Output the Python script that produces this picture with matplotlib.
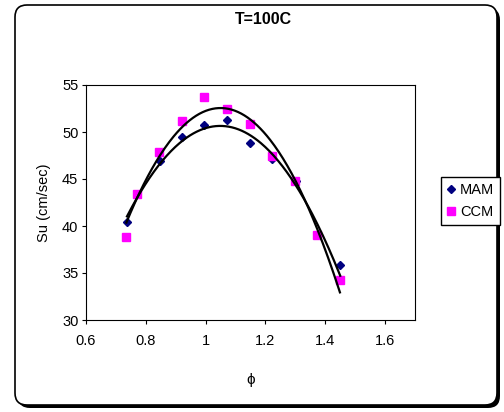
import numpy as np
import matplotlib.pyplot as plt
from matplotlib.patches import FancyBboxPatch
from matplotlib.lines import Line2D

plt.rcParams['font.family'] = ['Liberation Sans', 'DejaVu Sans']

# data
phi_mam = [0.737, 0.846, 0.921, 0.996, 1.073, 1.149, 1.223, 1.301, 1.371, 1.45]
su_mam = [40.4, 46.9, 49.5, 50.7, 51.3, 48.8, 47.1, 44.8, 39.0, 35.8]
phi_ccm = [0.735, 0.769, 0.845, 0.92, 0.996, 1.072, 1.147, 1.221, 1.299, 1.371, 1.449]
su_ccm = [38.8, 43.4, 47.9, 51.2, 53.7, 52.4, 50.8, 47.5, 44.8, 39.0, 34.3]

x_ticks = [0.6, 0.8, 1.0, 1.2, 1.4, 1.6]
x_tick_labels = ['0.6', '0.8', '1', '1.2', '1.4', '1.6']
y_ticks = [30, 35, 40, 45, 50, 55]

W, H = 504, 412
fig = plt.figure(figsize=(W / 100, H / 100), dpi=100)

# chart area with rounded corners and a small shadow, in pixel coords
bg = fig.add_axes([0, 0, 1, 1], zorder=0)
bg.set_xlim(0, W)
bg.set_ylim(H, 0)
bg.axis('off')
shadow = FancyBboxPatch((18, 8), 482, 400, boxstyle='round,pad=0,rounding_size=12',
                        fc='black', ec='black', lw=0)
box = FancyBboxPatch((15, 5), 482, 400, boxstyle='round,pad=0,rounding_size=12',
                     fc='white', ec='black', lw=1.2)
bg.add_patch(shadow)
bg.add_patch(box)

ax = fig.add_axes([86 / W, 1 - 320 / H, 329 / W, 235 / H], zorder=1)
ax.set_facecolor('white')

ax.plot(phi_mam, su_mam, ls='none', marker='D', ms=4.3, color='#000080', zorder=3)
ax.plot(phi_ccm, su_ccm, ls='none', marker='s', ms=5.2, color='#FF00FF', zorder=3)

# 2nd order polynomial trendlines (as in Excel)
for px, py in [(phi_mam, su_mam), (phi_ccm, su_ccm)]:
    c = np.polyfit(px, py, 2)
    xx = np.linspace(min(px), max(px), 200)
    ax.plot(xx, np.polyval(c, xx), color='black', lw=1.6, zorder=4)

ax.set_xlim(0.6, 1.7)
ax.set_ylim(30, 55)
ax.set_xticks(x_ticks)
ax.set_xticklabels(x_tick_labels)
ax.set_yticks(y_ticks)
ax.tick_params(direction='out', length=3, width=0.8, labelsize=10.5)
ax.tick_params(axis='x', pad=7)
ax.tick_params(axis='y', pad=2.5)
for s in ax.spines.values():
    s.set_linewidth(0.8)

ax.set_xlabel('ϕ', fontsize=11, labelpad=18)
ax.set_ylabel('Su (cm/sec)', fontsize=10.5, labelpad=8)

fig.text(263 / W, 1 - 20 / H, 'T=100C', ha='center', va='center',
         fontsize=11.5, fontweight='bold')

handles = [Line2D([], [], ls='none', marker='D', ms=4.3, color='#000080'),
           Line2D([], [], ls='none', marker='s', ms=5.2, color='#FF00FF')]
fig.legend(handles, ['MAM', 'CCM'], loc='center left',
           bbox_to_anchor=(441 / W, 1 - 201 / H), fontsize=10.5,
           frameon=True, fancybox=False, edgecolor='black', framealpha=1,
           borderpad=0.4, handlelength=0.6, handletextpad=0.3, labelspacing=0.6,
           borderaxespad=0)

fig.savefig('out.png', dpi=100)
